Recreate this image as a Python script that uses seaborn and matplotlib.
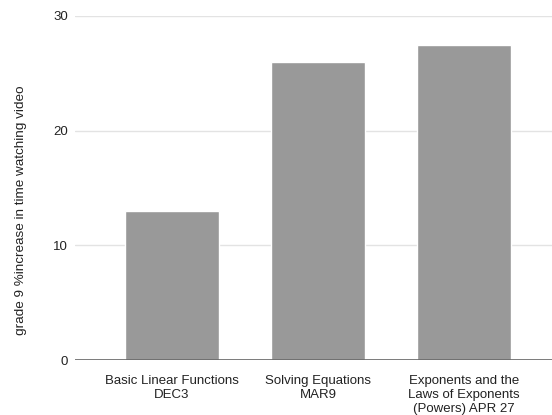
import matplotlib
matplotlib.use("Agg")
import matplotlib.pyplot as plt
import seaborn as sns
import pandas as pd

topics = [
    "Basic Linear Functions\nDEC3",
    "Solving Equations\nMAR9",
    "Exponents and the\nLaws of Exponents\n(Powers) APR 27",
]
increase = [13, 26, 27.5]
y_ticks = [0, 10, 20, 30]
y_label = "grade 9 %increase in time watching video"

sns.set_theme(style="white")
plt.rcParams["font.family"] = ["Liberation Sans", "DejaVu Sans"]

df = pd.DataFrame({"topic": topics, "increase": increase})

fig = plt.figure(figsize=(5.52, 4.15), dpi=100)
ax = fig.add_axes([75 / 552, 1 - 360 / 415, 477 / 552, 344 / 415])

sns.barplot(data=df, x="topic", y="increase", color="#999999", saturation=1,
            width=0.644, ax=ax, zorder=3)

ax.set_xlim(-0.664, 2.603)
ax.set_ylim(0, 30)
ax.set_yticks(y_ticks)
ax.yaxis.grid(True, color="#e3e3e3", linewidth=1, zorder=0)
ax.set_axisbelow(True)
ax.axhline(0, color="#666666", linewidth=1.2, zorder=4)

for s in ax.spines.values():
    s.set_visible(False)

ax.tick_params(axis="both", length=0, labelsize=9.5, colors="#222222")
ax.tick_params(axis="y", pad=5)
ax.tick_params(axis="x", pad=11)
for t in ax.get_xticklabels():
    t.set_linespacing(1.22)
ax.set_xlabel("")
ax.set_ylabel(y_label, fontsize=9.7, color="#222222")
ax.yaxis.set_label_coords(-0.10, 0.436)

fig.savefig("out.png", dpi=100)
